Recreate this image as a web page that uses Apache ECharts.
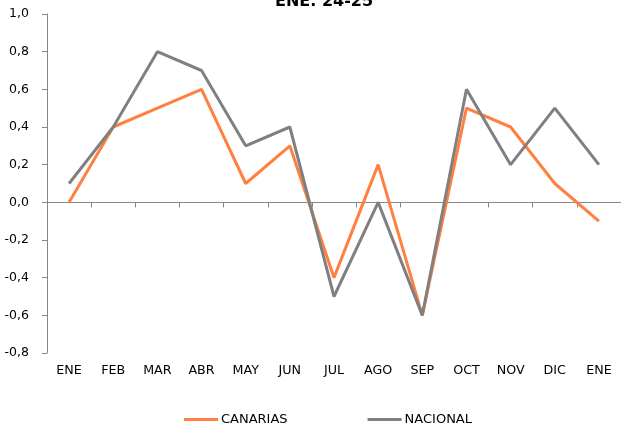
<!DOCTYPE html>
<html><head><meta charset="utf-8">
<script src="https://cdn.jsdelivr.net/npm/echarts@6/dist/echarts.min.js"></script>
<style>html,body{margin:0;padding:0;background:#fff}#c{width:621px;height:430px}</style>
</head><body><div id="c"></div>
<script>
const categories = ['ENE','FEB','MAR','ABR','MAY','JUN','JUL','AGO','SEP','OCT','NOV','DIC','ENE'];
const canarias = [0.0, 0.4, 0.5, 0.6, 0.1, 0.3, -0.4, 0.2, -0.6, 0.5, 0.4, 0.1, -0.1];
const nacional = [0.1, 0.4, 0.8, 0.7, 0.3, 0.4, -0.5, 0.0, -0.6, 0.6, 0.2, 0.5, 0.2];
const titleText = 'ENE. 24-25';

const chart = echarts.init(document.getElementById('c'));
const font = 'Verdana, "DejaVu Sans", sans-serif';
chart.setOption({
  animation: false,
  title: { text: titleText, left: 275, top: -6, padding: 0,
    textStyle: { fontFamily: font, fontSize: 16, fontWeight: 'bold', color: '#000' } },
  legend: {
    top: 413, left: 184, padding: 0, itemGap: 80, itemWidth: 34, itemHeight: 3,
    icon: 'rect',
    textStyle: { fontFamily: font, fontSize: 13, color: '#000', padding: [0,0,0,-2] },
    data: ['CANARIAS', 'NACIONAL']
  },
  grid: { left: 47, top: 14, width: 576, bottom: 77, containLabel: false },
  xAxis: [
    { type: 'category', data: categories, boundaryGap: true,
      axisLine: { onZero: true, lineStyle: { color: '#868686', width: 1 } },
      axisTick: { show: true, alignWithLabel: false, length: 5, lineStyle: { color: '#868686' } },
      axisLabel: { show: false }, splitLine: { show: false } },
    { type: 'category', data: categories, boundaryGap: true, position: 'bottom',
      axisLine: { show: false, onZero: false }, axisTick: { show: false },
      axisLabel: { show: true, margin: 11, fontFamily: font, fontSize: 12.7, color: '#000', interval: 0 },
      splitLine: { show: false } }
  ],
  yAxis: {
    type: 'value', min: -0.8, max: 1.0, interval: 0.2,
    axisLine: { show: true, lineStyle: { color: '#868686' } },
    axisTick: { show: true, length: 5, lineStyle: { color: '#868686' } },
    splitLine: { show: false },
    axisLabel: { margin: 18, fontFamily: font, fontSize: 12.5, color: '#000',
      formatter: v => v.toFixed(1).replace('.', ',') }
  },
  series: [
    { name: 'CANARIAS', type: 'line', data: canarias, xAxisIndex: 0, symbol: 'none',
      lineStyle: { color: '#FF8040', width: 3 }, itemStyle: { color: '#FF8040' } },
    { name: 'NACIONAL', type: 'line', data: nacional, xAxisIndex: 0, symbol: 'none',
      lineStyle: { color: '#808080', width: 3 }, itemStyle: { color: '#808080' } }
  ]
});
</script></body></html>
